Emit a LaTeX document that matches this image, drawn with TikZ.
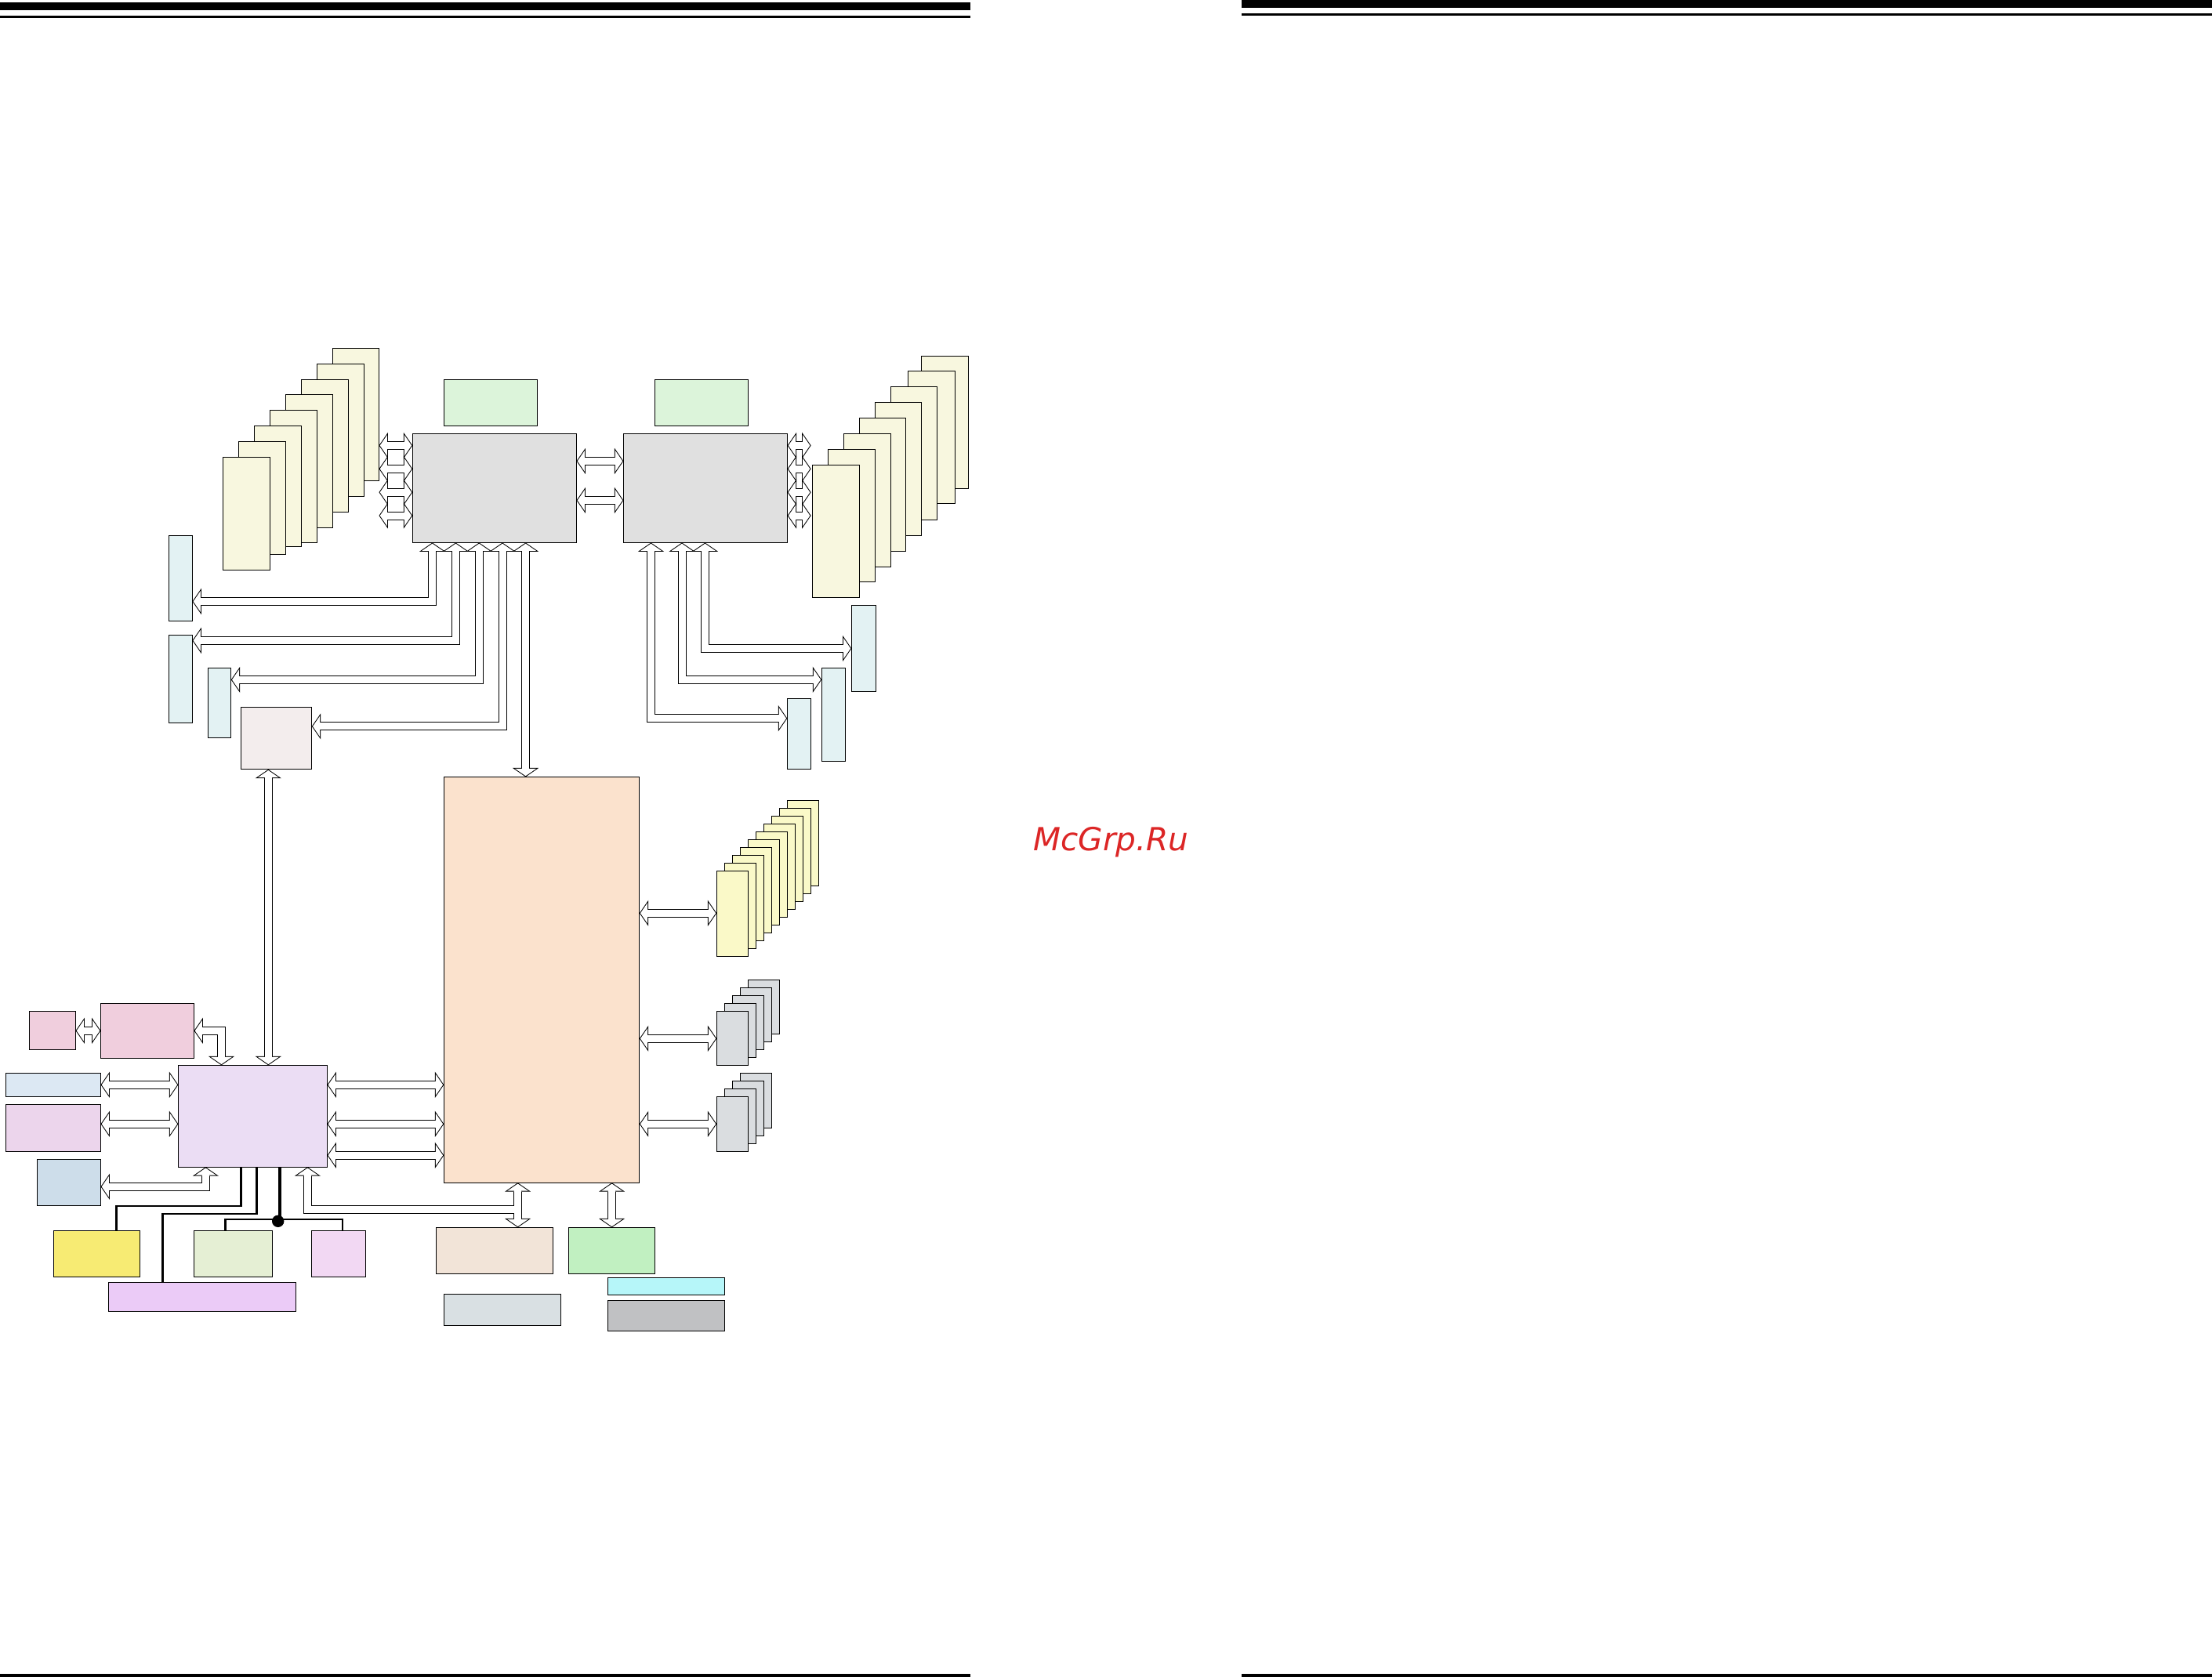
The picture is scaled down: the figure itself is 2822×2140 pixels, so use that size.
\documentclass[tikz,border=0pt]{standalone}
\usepackage{fontspec}
\usetikzlibrary{arrows.meta}
\newfontfamily\wmfont{DejaVu Sans}
\tikzset{
  x=1pt,y=-1pt,
  pane/.style={draw=black,line width=1.1pt,inner sep=0pt,outer sep=0pt,anchor=north west},
  busOuter/.style={line width=11pt,line join=miter,black,
    {Triangle[length=11.41pt,width=33.2pt,line width=0pt]}-{Triangle[length=11.41pt,width=33.2pt,line width=0pt]}},
  busInner/.style={line width=9pt,line join=miter,white,shorten <=1.22pt,shorten >=1.22pt,
    {Triangle[length=9.19pt,width=26.8pt,line width=0pt]}-{Triangle[length=9.19pt,width=26.8pt,line width=0pt]}},
  busSeam/.style={line width=9pt,line join=miter,white,shorten <=9pt,shorten >=9pt},
  busOuterHalf/.style={line width=11pt,line join=miter,black,
    {Triangle[length=11.41pt,width=33.2pt,line width=0pt]}-},
  busInnerHalf/.style={line width=9pt,line join=miter,white,shorten <=1.22pt,
    {Triangle[length=9.19pt,width=26.8pt,line width=0pt]}-},
  busSeamHalf/.style={line width=9pt,line join=miter,white,shorten <=9pt},
  wire/.style={line width=2.5pt,black,line join=miter},
  wireHeavy/.style={line width=4.8pt,black},
  rulebar/.style={fill=black,draw=none},
}
\definecolor{cDimm}{HTML}{F8F7DF}
\definecolor{cGreenA}{HTML}{DCF4DA}
\definecolor{cCpu}{HTML}{E0E0E0}
\definecolor{cSlot}{HTML}{E3F2F3}
\definecolor{cBridge}{HTML}{F3EDED}
\definecolor{cCore}{HTML}{FBE2CD}
\definecolor{cDimmB}{HTML}{FAF9C8}
\definecolor{cDrive}{HTML}{DADDE0}
\definecolor{cPink}{HTML}{F0CEDD}
\definecolor{cSky}{HTML}{DCE8F3}
\definecolor{cLilac}{HTML}{ECD5EC}
\definecolor{cSteel}{HTML}{CDDDEA}
\definecolor{cHub}{HTML}{EBDDF4}
\definecolor{cYellow}{HTML}{F7EB73}
\definecolor{cLime}{HTML}{E5EFD4}
\definecolor{cOrchid}{HTML}{F2D8F3}
\definecolor{cViolet}{HTML}{EBCBF7}
\definecolor{cBeige}{HTML}{F2E4D8}
\definecolor{cGreenB}{HTML}{C1F0C1}
\definecolor{cCyan}{HTML}{B6F6F9}
\definecolor{cMid}{HTML}{C0C1C3}
\definecolor{cPale}{HTML}{D9E0E3}
\definecolor{cMark}{HTML}{DC2626}
\newcommand{\pane}[6]{%
  \pgfmathsetmacro{\pw}{#5-#3}\pgfmathsetmacro{\ph}{#6-#4}%
  \node[pane,fill=#2,minimum width=\pw pt,minimum height=\ph pt] (#1) at (#3,#4) {};}
\newcommand{\bus}[1]{\draw[busOuter] #1; \draw[busInner] #1; \draw[busSeam] #1;}
\begin{document}
\begin{tikzpicture}
\useasboundingbox (0,0) rectangle (2822,2140);
\fill[white] (0,0) rectangle (2822,2140);
% page rules
\fill[rulebar] (0,3) rectangle (1238,13);
\fill[rulebar] (0,19.7) rectangle (1238,23);
\fill[rulebar] (1584,0) rectangle (2822,10);
\fill[rulebar] (1584,17) rectangle (2822,20);
\fill[rulebar] (0,2136) rectangle (1238,2140);
\fill[rulebar] (1584,2136) rectangle (2822,2140);
% CPU blocks
\pane{gA}{cGreenA}{566.5}{484.3}{685.5}{543.2}
\pane{gB}{cGreenA}{835.4}{484.3}{954.6}{543.2}
\pane{cpuA}{cCpu}{526.3}{553.6}{735.5}{692.5}
\pane{cpuB}{cCpu}{795.4}{553.6}{1004.6}{692.5}
% left DIMM stack
\pane{la8}{cDimm}{424.5}{444.5}{483.5}{613.3}
\pane{la7}{cDimm}{404.3}{464.4}{464.3}{633.5}
\pane{la6}{cDimm}{384.4}{484.3}{444.4}{653.4}
\pane{la5}{cDimm}{364.5}{503.4}{424.5}{673.3}
\pane{la4}{cDimm}{344.6}{523.3}{404.3}{692.5}
\pane{la3}{cDimm}{324.3}{543.2}{384.4}{697.5}
\pane{la2}{cDimm}{304.4}{563.5}{364.5}{707.4}
\pane{la1}{cDimm}{284.5}{583.4}{344.6}{727.3}
% right DIMM stack
\pane{ra8}{cDimm}{1175.3}{454.4}{1235.7}{623.6}
\pane{ra7}{cDimm}{1158.2}{473.6}{1218.5}{642.3}
\pane{ra6}{cDimm}{1136.4}{493.5}{1195.7}{663.4}
\pane{ra5}{cDimm}{1116.4}{513.4}{1175.7}{683.3}
\pane{ra4}{cDimm}{1096.4}{533.3}{1155.7}{703.5}
\pane{ra3}{cDimm}{1076.4}{553.5}{1136.8}{723.4}
\pane{ra2}{cDimm}{1056.4}{573.4}{1116.8}{742.6}
% slots
\pane{sl1}{cSlot}{215.2}{683.3}{245.4}{792.4}
\pane{sl2}{cSlot}{215.2}{810.4}{245.4}{922.5}
\pane{sl3}{cSlot}{265.3}{852.4}{294.8}{941.6}
\pane{br}{cBridge}{307.4}{902.6}{397.8}{981.8}
\pane{sr1}{cSlot}{1086.4}{772.4}{1117.5}{882.2}
\pane{sr2}{cSlot}{1048.2}{852.4}{1078.6}{971.8}
\pane{sr3}{cSlot}{1004.3}{891.4}{1034.6}{981.7}
% core
\pane{core}{cCore}{566.3}{991.4}{815.8}{1509.3}
% yellow stack
\foreach \i in {9,8,...,0}{
  \pgfmathsetmacro{\xa}{914.3+10*\i}\pgfmathsetmacro{\xb}{954.7+10*\i}
  \pgfmathsetmacro{\ya}{1111.3-10*\i}\pgfmathsetmacro{\yb}{1220.3-10*\i}
  \pane{yy\i}{cDimmB}{\xa}{\ya}{\xb}{\yb}}
% drive stacks
\foreach \i in {4,3,...,0}{
  \pgfmathsetmacro{\xa}{914.3+10*\i}\pgfmathsetmacro{\xb}{954.7+10*\i}
  \pgfmathsetmacro{\ya}{1290.3-10*\i}\pgfmathsetmacro{\yb}{1359.7-10*\i}
  \pane{dp\i}{cDrive}{\xa}{\ya}{\xb}{\yb}}
\foreach \i in {3,2,...,0}{
  \pgfmathsetmacro{\xa}{914.3+10*\i}\pgfmathsetmacro{\xb}{954.7+10*\i}
  \pgfmathsetmacro{\ya}{1399.3-10*\i}\pgfmathsetmacro{\yb}{1469.3-10*\i}
  \pane{dq\i}{cDrive}{\xa}{\ya}{\xb}{\yb}}
% lower blocks
\pane{pkS}{cPink}{37.6}{1290.3}{96.5}{1339.3}
\pane{pkB}{cPink}{128.5}{1280.3}{247.5}{1350.3}
\pane{hub}{cHub}{227.4}{1359.3}{417.5}{1489.3}
\pane{sky}{cSky}{7.5}{1369.3}{128.5}{1399.3}
\pane{lil}{cLilac}{7.5}{1409.3}{128.5}{1469.3}
\pane{stl}{cSteel}{47.4}{1479.3}{128.5}{1538.3}
\pane{yel}{cYellow}{68.4}{1570.3}{178.3}{1629.3}
\pane{lim}{cLime}{247.5}{1570.3}{347.6}{1629.3}
\pane{orc}{cOrchid}{397.4}{1570.3}{466.6}{1629.3}
\pane{vio}{cViolet}{138.4}{1636.7}{377.6}{1673.3}
\pane{bei}{cBeige}{556.3}{1566.3}{705.6}{1625.7}
\pane{grB}{cGreenB}{725.5}{1566.3}{835.7}{1625.7}
\pane{cya}{cCyan}{775.6}{1630.3}{924.9}{1652.7}
\pane{mid}{cMid}{775.6}{1659.3}{924.9}{1698.7}
\pane{pal}{cPale}{566.3}{1651.3}{715.5}{1691.7}
% memory buses
\foreach \yy in {568.5,598.3,628.2,658.0}{
  \bus{(la8.east |- 0,\yy) -- (cpuA.west |- 0,\yy)}
  \bus{(cpuB.east |- 0,\yy) -- (1034.6,\yy)}
}
\pane{ra1}{cDimm}{1036.4}{593.3}{1096.8}{762.5}
% CPU link
\bus{(cpuA.east |- 0,588.4) -- (cpuB.west |- 0,588.4)}
\bus{(cpuA.east |- 0,638.5) -- (cpuB.west |- 0,638.5)}
% CPU A bottom
\bus{(cpuA.south -| 551.6,0) -- (551.6,767.5) -- (sl1.east |- 0,767.5)}
\bus{(cpuA.south -| 581.4,0) -- (581.4,817.4) -- (sl2.east |- 0,817.4)}
\bus{(cpuA.south -| 611.3,0) -- (611.3,867.4) -- (sl3.east |- 0,867.4)}
\bus{(cpuA.south -| 641,0) -- (641,926.9) -- (br.east |- 0,926.9)}
\bus{(cpuA.south -| 670.6,0) -- (core.north -| 670.6,0)}
% CPU B bottom
\bus{(cpuB.south -| 899.5,0) -- (899.5,827.5) -- (sr1.west |- 0,827.5)}
\bus{(cpuB.south -| 870,0) -- (870,867.3) -- (sr2.west |- 0,867.3)}
\bus{(cpuB.south -| 830.5,0) -- (830.5,916.7) -- (sr3.west |- 0,916.7)}
% bridge to hub
\bus{(br.south -| 342.3,0) -- (hub.north -| 342.3,0)}
% core right
\bus{(core.east |- 0,1165.3) -- (yy0.west |- 0,1165.3)}
\bus{(core.east |- 0,1325.3) -- (dp0.west |- 0,1325.3)}
\bus{(core.east |- 0,1434.3) -- (dq0.west |- 0,1434.3)}
% hub neighbours
\bus{(pkS.east |- 0,1315.3) -- (pkB.west |- 0,1315.3)}
\bus{(pkB.east |- 0,1315.3) -- (282.5,1315.3) -- (hub.north -| 282.5,0)}
\bus{(sky.east |- 0,1384.3) -- (hub.west |- 0,1384.3)}
\bus{(lil.east |- 0,1434.3) -- (hub.west |- 0,1434.3)}
\bus{(stl.east |- 0,1514.3) -- (262.4,1514.3) -- (hub.south -| 262.4,0)}
\bus{(hub.east |- 0,1384.3) -- (core.west |- 0,1384.3)}
\bus{(hub.east |- 0,1434.3) -- (core.west |- 0,1434.3)}
\bus{(hub.east |- 0,1474.3) -- (core.west |- 0,1474.3)}
% T junction
\draw[busOuter] (core.south -| 660.6,0) -- (bei.north -| 660.6,0);
\draw[busOuterHalf] (hub.south -| 392.4,0) -- (392.4,1543.8) -- (660.6,1543.8);
\draw[busInner] (core.south -| 660.6,0) -- (bei.north -| 660.6,0);
\draw[busSeam] (core.south -| 660.6,0) -- (bei.north -| 660.6,0);
\draw[busInnerHalf] (hub.south -| 392.4,0) -- (392.4,1543.8) -- (660.6,1543.8);
\draw[busSeamHalf] (hub.south -| 392.4,0) -- (392.4,1543.8) -- (660.6,1543.8);
\bus{(core.south -| 780.6,0) -- (grB.north -| 780.6,0)}
% wires
\draw[wire] (hub.south -| 307.6,0) -- (307.6,1539) -- (148.3,1539) -- (yel.north -| 148.3,0);
\draw[wire] (hub.south -| 327.4,0) -- (327.4,1549) -- (207.6,1549) -- (vio.north -| 207.6,0);
\draw[wireHeavy] (hub.south -| 357,0) -- (357,1556);
\draw[wire] (lim.north -| 287.5,0) -- (287.5,1556) -- (437,1556) -- (orc.north -| 437,0);
\node[circle,fill=black,draw=none,inner sep=0pt,minimum size=15.4pt,outer sep=0pt] (dot) at (354.7,1558.3) {};
% watermark
\node[anchor=base west,inner sep=0pt,text=cMark] (wm) at (1318,1085) {\wmfont\fontsize{40.6}{48}\selectfont\itshape McGrp.Ru};
\end{tikzpicture}
\end{document}
